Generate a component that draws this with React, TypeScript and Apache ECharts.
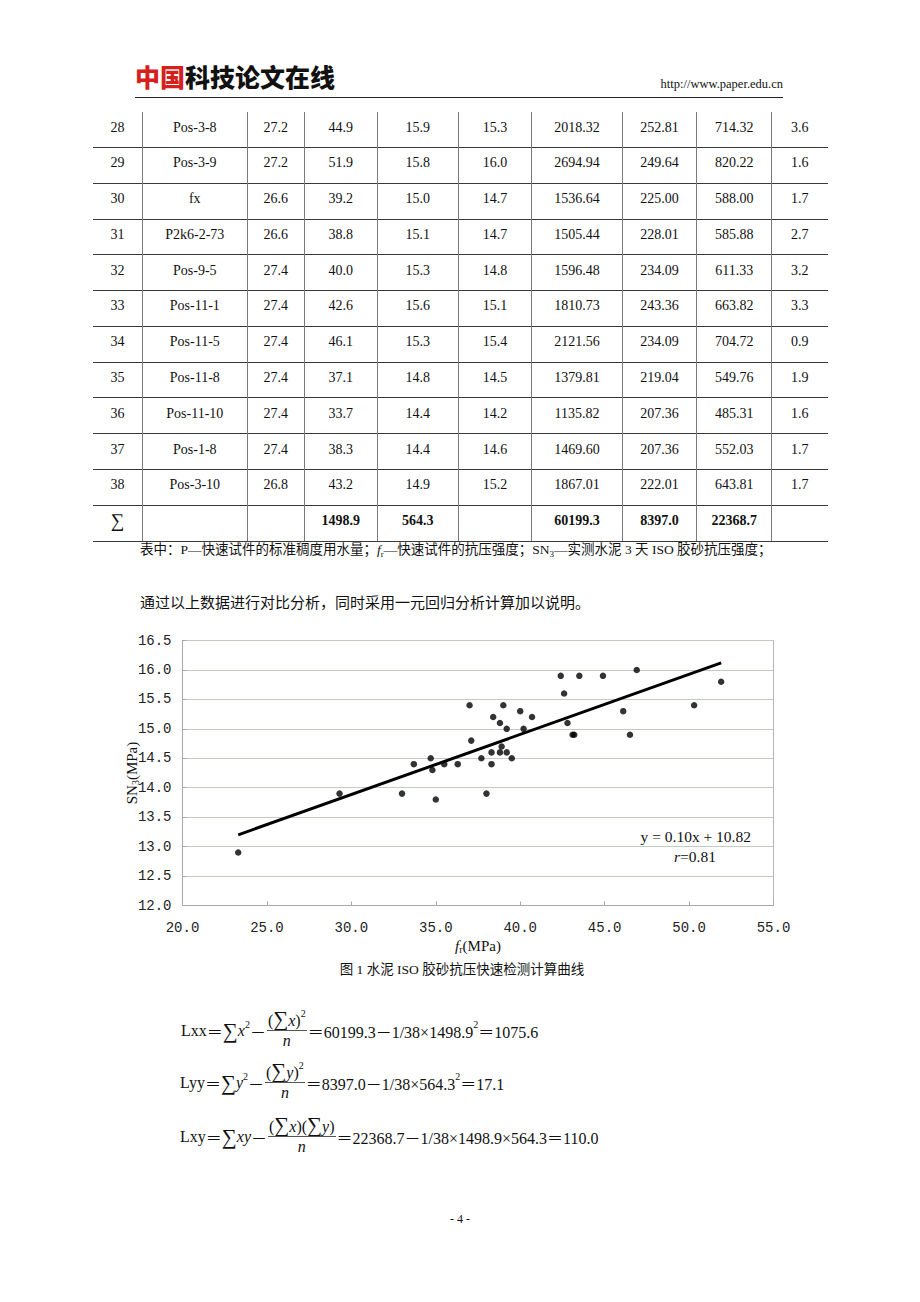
import React, { useEffect, useRef } from "react";
import * as echarts from "echarts";

// ---------- data ----------
const frValues = [23.3, 29.3, 33.0, 33.7, 34.7, 34.8, 35.0, 35.5, 36.3, 37.0, 37.1, 37.7, 38.0, 38.3, 38.3, 38.4, 38.8, 38.9, 38.8, 39.0, 39.2, 39.2, 39.5, 40.0, 40.2, 40.7, 42.4, 42.6, 42.8, 43.1, 43.2, 43.5, 44.9, 46.1, 46.5, 46.9, 50.3, 51.9];
const snValues = [12.9, 13.9, 13.9, 14.4, 14.5, 14.3, 13.8, 14.4, 14.4, 15.4, 14.8, 14.5, 13.9, 14.6, 14.4, 15.2, 15.1, 14.7, 14.6, 15.4, 15.0, 14.6, 14.5, 15.3, 15.0, 15.2, 15.9, 15.6, 15.1, 14.9, 14.9, 15.9, 15.9, 15.3, 14.9, 16.0, 15.4, 15.8];
const trendX = [23.3, 51.9];
const trendY = [13.2, 16.12];
const equationText = "y = 0.10x + 10.82";
const rText = "=0.81";

const rowNos = ["28", "29", "30", "31", "32", "33", "34", "35", "36", "37", "38"];
const rowNames = ["Pos-3-8", "Pos-3-9", "fx", "P2k6-2-73", "Pos-9-5", "Pos-11-1", "Pos-11-5", "Pos-11-8", "Pos-11-10", "Pos-1-8", "Pos-3-10"];
const colP = ["27.2", "27.2", "26.6", "26.6", "27.4", "27.4", "27.4", "27.4", "27.4", "27.4", "26.8"];
const colFr = ["44.9", "51.9", "39.2", "38.8", "40.0", "42.6", "46.1", "37.1", "33.7", "38.3", "43.2"];
const colSn = ["15.9", "15.8", "15.0", "15.1", "15.3", "15.6", "15.3", "14.8", "14.4", "14.4", "14.9"];
const colPred = ["15.3", "16.0", "14.7", "14.7", "14.8", "15.1", "15.4", "14.5", "14.2", "14.6", "15.2"];
const colX2 = ["2018.32", "2694.94", "1536.64", "1505.44", "1596.48", "1810.73", "2121.56", "1379.81", "1135.82", "1469.60", "1867.01"];
const colY2 = ["252.81", "249.64", "225.00", "228.01", "234.09", "243.36", "234.09", "219.04", "207.36", "207.36", "222.01"];
const colXY = ["714.32", "820.22", "588.00", "585.88", "611.33", "663.82", "704.72", "549.76", "485.31", "552.03", "643.81"];
const colErr = ["3.6", "1.6", "1.7", "2.7", "3.2", "3.3", "0.9", "1.9", "1.6", "1.7", "1.7"];
const sumRow = ["∑", "", "", "1498.9", "564.3", "", "60199.3", "8397.0", "22368.7", ""];

// ---------- layout helpers ----------
const SERIF = '"Liberation Serif", "Times New Roman", "Noto Sans CJK SC", serif';
const CJK = '"Liberation Serif", "Noto Sans CJK SC", sans-serif';

const colEdges = [92.7, 142.3, 247.3, 304.3, 377.3, 458.3, 531.7, 622.3, 696.7, 771.7, 828];
const tableTop = 111.7;
const tableBottom = 541;

function Abs(props: { x: number; y: number; align?: "left" | "center" | "right"; style?: React.CSSProperties; children: React.ReactNode }) {
  const { x, y, align = "left", style, children } = props;
  const tx = align === "center" ? "-50%" : align === "right" ? "-100%" : "0";
  return (
    <div
      style={{
        position: "absolute",
        left: x,
        top: y,
        transform: `translate(${tx}, -50%)`,
        whiteSpace: "nowrap",
        lineHeight: 1.2,
        ...style,
      }}
    >
      {children}
    </div>
  );
}

function Table() {
  const nRows = rowNos.length + 1;
  const rowH = (tableBottom - tableTop) / nRows;
  const rows: string[][] = rowNos.map((no, i) => [no, rowNames[i], colP[i], colFr[i], colSn[i], colPred[i], colX2[i], colY2[i], colXY[i], colErr[i]]);
  rows.push(sumRow);
  const els: React.ReactNode[] = [];
  for (let i = 0; i < nRows; i++) {
    const yLine = tableTop + (i + 1) * rowH;
    els.push(
      <div key={"h" + i} style={{ position: "absolute", left: colEdges[0], top: yLine - 0.5, width: colEdges[colEdges.length - 1] - colEdges[0], height: 1, background: "#3a3a3a" }} />
    );
    const cy = tableTop + i * rowH + rowH / 2 - 2;
    rows[i].forEach((txt, j) => {
      if (!txt) return;
      const cx = (colEdges[j] + colEdges[j + 1]) / 2;
      const isSum = i === nRows - 1;
      els.push(
        <Abs key={`c${i}-${j}`} x={cx} y={cy} align="center" style={{ fontFamily: SERIF, fontSize: isSum && j === 0 ? 19 : 14, fontWeight: isSum && j > 0 ? "bold" : "normal", color: "#111" }}>
          {txt}
        </Abs>
      );
    });
  }
  for (let j = 1; j < colEdges.length - 1; j++) {
    els.push(
      <div key={"v" + j} style={{ position: "absolute", left: colEdges[j] - 0.5, top: tableTop, width: 1, height: tableBottom - tableTop, background: "#7a7a7a" }} />
    );
  }
  return <>{els}</>;
}

const supStyle: React.CSSProperties = { fontSize: 10, position: "relative", top: -7 };
const bigSum: React.CSSProperties = { fontSize: 21, lineHeight: 1 };

function Frac(props: { num: React.ReactNode; den: React.ReactNode }) {
  return (
    <span style={{ display: "inline-flex", flexDirection: "column", alignItems: "center", margin: "0 1px" }}>
      <span style={{ lineHeight: "19px", height: 19, display: "inline-flex", alignItems: "flex-end", padding: "0 1px" }}>{props.num}</span>
      <span style={{ alignSelf: "stretch", height: 1, background: "#555" }} />
      <span style={{ lineHeight: "20px", height: 20, fontStyle: "italic" }}>{props.den}</span>
    </span>
  );
}

function FormulaLine(props: { x: number; y: number; children: React.ReactNode }) {
  return (
    <div
      style={{
        position: "absolute",
        left: props.x,
        top: props.y,
        transform: "translateY(-50%)",
        display: "flex",
        alignItems: "center",
        fontFamily: CJK,
        fontSize: 16,
        color: "#111",
        whiteSpace: "nowrap",
      }}
    >
      {props.children}
    </div>
  );
}

function Chart() {
  const ref = useRef<HTMLDivElement>(null);
  useEffect(() => {
    const chart = echarts.init(ref.current!, null, { renderer: "svg" });
    const scatterData = frValues.map((x, i) => [x, snValues[i]]);
    const lineData = trendX.map((x, i) => [x, trendY[i]]);
    const axisColor = "#a8a8a8";
    const nameRich = {
      i: { fontFamily: SERIF, fontStyle: "italic", fontSize: 15, color: "#111", lineHeight: 18, verticalAlign: "middle" },
      s: { fontFamily: SERIF, fontSize: 10, color: "#111", lineHeight: 18, verticalAlign: "bottom" },
      n: { fontFamily: SERIF, fontSize: 15, color: "#111", lineHeight: 18, verticalAlign: "middle" },
    };
    chart.setOption({
      animation: false,
      grid: {
        left: 72.5,
        top: 15.5,
        width: 591,
        height: 265,
        containLabel: false,
        outerBoundsMode: "none",
        show: true,
        borderColor: "#b4b4b4",
        borderWidth: 1,
        backgroundColor: "#fff",
      },
      xAxis: {
        type: "value",
        min: 20,
        max: 55,
        interval: 5,
        axisLine: { show: true, lineStyle: { color: axisColor } },
        axisTick: { show: true, inside: true, length: 4, lineStyle: { color: axisColor } },
        splitLine: { show: false },
        axisLabel: { formatter: (v: number) => v.toFixed(1), fontFamily: '"Liberation Mono", monospace', fontSize: 14, color: "#222", margin: 15 },
        name: "{i|f}{s|r}{n|(MPa)}",
        nameLocation: "middle",
        nameGap: 31,
        nameMoveOverlap: false,
        nameTextStyle: { rich: nameRich },
      },
      yAxis: {
        type: "value",
        min: 12,
        max: 16.5,
        interval: 0.5,
        axisLine: { show: true, lineStyle: { color: axisColor } },
        axisTick: { show: true, inside: true, length: 4, lineStyle: { color: axisColor } },
        splitLine: { show: true, lineStyle: { color: "#c3cbc3", width: 1 } },
        axisLabel: { formatter: (v: number) => v.toFixed(1), fontFamily: '"Liberation Mono", monospace', fontSize: 14, color: "#222", margin: 11 },
        name: "{n|SN}{s|3}{n|(MPa)}",
        nameLocation: "middle",
        nameRotate: 90,
        nameGap: 42,
        nameMoveOverlap: false,
        nameTextStyle: { rich: nameRich },
      },
      series: [
        {
          type: "scatter",
          data: scatterData,
          symbol: "circle",
          symbolSize: 6.5,
          itemStyle: { color: "#000" },
          z: 3,
        },
        {
          type: "line",
          data: lineData,
          showSymbol: false,
          symbol: "none",
          lineStyle: { color: "#000", width: 3 },
          z: 4,
        },
      ],
      graphic: [
        {
          type: "text",
          x: 641,
          y: 211,
          z: 10,
          style: { text: equationText, fontFamily: SERIF, fontSize: 15.5, fill: "#111", align: "right", verticalAlign: "middle" },
        },
        {
          type: "text",
          x: 585,
          y: 231,
          z: 10,
          style: {
            text: "{i|r}" + rText,
            fontFamily: SERIF,
            fontSize: 15.5,
            fill: "#111",
            align: "center",
            verticalAlign: "middle",
            rich: { i: { fontFamily: SERIF, fontStyle: "italic", fontSize: 15.5, fill: "#111" } },
          },
        },
      ],
    });
    return () => chart.dispose();
  }, []);
  return <div ref={ref} style={{ position: "absolute", left: 110, top: 625, width: 690, height: 335 }} />;
}

export default function App() {
  return (
    <div style={{ position: "absolute", left: 0, top: 0, width: 920, height: 1302, background: "#fff", overflow: "hidden", color: "#111" }}>
      {/* header */}
      <Abs x={135} y={76} style={{ fontFamily: '"Noto Sans CJK SC", sans-serif', fontWeight: 900, fontSize: 25, letterSpacing: 0 }}>
        <span style={{ color: "#d5201c" }}>中国</span>
        <span style={{ color: "#111" }}>科技论文在线</span>
      </Abs>
      <Abs x={783} y={84} align="right" style={{ fontFamily: SERIF, fontSize: 12.5 }}>
        http://www.paper.edu.cn
      </Abs>
      <div style={{ position: "absolute", left: 135, top: 96.5, width: 648, height: 1, background: "#222" }} />

      <Table />

      <Abs x={140} y={551} style={{ fontFamily: CJK, fontSize: 13.5 }}>
        表中：P—快速试件的标准稠度用水量；<i>f</i>
        <sub style={{ fontSize: 9 }}>r</sub>—快速试件的抗压强度；SN<sub style={{ fontSize: 9 }}>3</sub>—实测水泥 3 天 ISO 胶砂抗压强度；
      </Abs>

      <Abs x={140} y={603} style={{ fontFamily: CJK, fontSize: 15 }}>
        通过以上数据进行对比分析，同时采用一元回归分析计算加以说明。
      </Abs>

      <Chart />

      <Abs x={462} y={970} align="center" style={{ fontFamily: CJK, fontSize: 13.5 }}>
        图 1 水泥 ISO 胶砂抗压快速检测计算曲线
      </Abs>

      {/* formulas */}
      <FormulaLine x={181} y={1031}>
        <span>Lxx </span>
        <span>＝</span>
        <span style={bigSum}>∑</span>
        <i>x</i>
        <span style={supStyle}>2</span>
        <span>－</span>
        <Frac
          num={
            <>
              (<span style={bigSum}>∑</span>
              <i>x</i>)<span style={supStyle}>2</span>
            </>
          }
          den={"n"}
        />
        <span>＝60199.3－1/38×1498.9</span>
        <span style={supStyle}>2</span>
        <span>＝1075.6</span>
      </FormulaLine>

      <FormulaLine x={180} y={1083}>
        <span>Lyy </span>
        <span>＝</span>
        <span style={bigSum}>∑</span>
        <i>y</i>
        <span style={supStyle}>2</span>
        <span>－</span>
        <Frac
          num={
            <>
              (<span style={bigSum}>∑</span>
              <i>y</i>)<span style={supStyle}>2</span>
            </>
          }
          den={"n"}
        />
        <span>＝8397.0－1/38×564.3</span>
        <span style={supStyle}>2</span>
        <span>＝17.1</span>
      </FormulaLine>

      <FormulaLine x={180} y={1137}>
        <span>Lxy </span>
        <span>＝</span>
        <span style={bigSum}>∑</span>
        <i>xy</i>
        <span>－</span>
        <Frac
          num={
            <>
              (<span style={bigSum}>∑</span>
              <i>x</i>)(<span style={bigSum}>∑</span>
              <i>y</i>)
            </>
          }
          den={"n"}
        />
        <span>＝22368.7－1/38×1498.9×564.3＝110.0</span>
      </FormulaLine>

      <Abs x={460} y={1219} align="center" style={{ fontFamily: SERIF, fontSize: 12 }}>
        - 4 -
      </Abs>
    </div>
  );
}
